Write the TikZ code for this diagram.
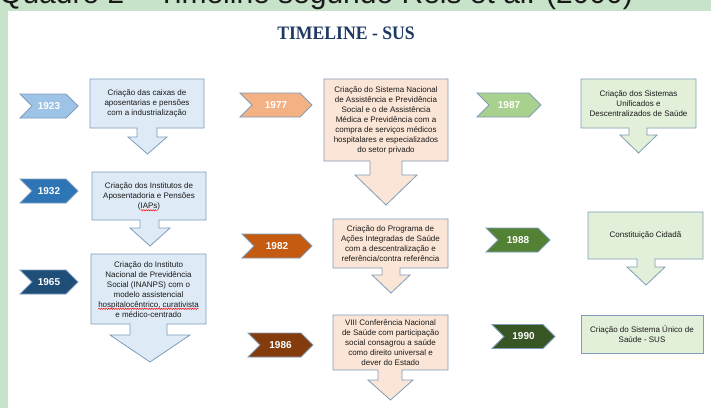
\documentclass[tikz,border=0pt]{standalone}
\usepackage{fontspec}
\setmainfont{Liberation Sans}
\newfontfamily\titlefont{Liberation Serif}
\usetikzlibrary{decorations.pathmorphing}
\definecolor{frame}{HTML}{C7E3C9}
\definecolor{edge}{HTML}{7F9DBB}
\definecolor{titleblue}{HTML}{1F3864}
\definecolor{txt}{HTML}{1A1A1A}
\definecolor{fblue}{HTML}{DEEBF7}
\definecolor{fpeach}{HTML}{FBE5D6}
\definecolor{fgreen}{HTML}{E2F0D9}
\definecolor{cA}{HTML}{9DC3E6}
\definecolor{cB}{HTML}{2E75B6}
\definecolor{cC}{HTML}{1F4E79}
\definecolor{cD}{HTML}{F4B183}
\definecolor{cE}{HTML}{C55A11}
\definecolor{cF}{HTML}{843C0C}
\definecolor{cG}{HTML}{A9D18E}
\definecolor{cH}{HTML}{548235}
\definecolor{cI}{HTML}{375623}
\tikzset{
  cbox/.style={draw=edge, line width=0.8pt, line join=miter},
  chevb/.style={draw=edge, line width=0.8pt},
  yr/.style={text=white, font=\fontsize{10}{12}\selectfont\bfseries, inner sep=0pt},
  btxt/.style={text=txt, font=\fontsize{8}{10}\selectfont, align=center, inner sep=0pt},
  squig/.style={draw=red, line width=0.45pt, decorate, decoration={snake, amplitude=0.7pt, segment length=2.4pt}},
}
\newcommand\chev[6]{%
  \draw[chevb, fill=#4] (#1,#3-12) -- (#2-12,#3-12) -- (#2,#3) -- (#2-12,#3+12) -- (#1,#3+12) -- (#1+12,#3) -- cycle;
  \node[yr] (#5) at ({(#1+#2)/2},#3) {#6};}
\begin{document}
\begin{tikzpicture}[x=1pt,y=-1pt]
\useasboundingbox (0,0) rectangle (711,408);
\clip (0,0) rectangle (711,408);
% frame
\fill[frame] (0,0) rectangle (711,408);
\fill[white] (8,11) rectangle (711,408);
\node[anchor=base west, inner sep=0pt, text=txt, font=\fontsize{30}{32}\selectfont] (hdr) at (-1,3) {Quadro 2 – Timeline segundo Reis et al. (2000)};
% title
\node[text=titleblue, inner sep=0pt, font=\titlefont\bfseries\fontsize{19}{20}\selectfont, xscale=0.93] (title) at (346,33) {TIMELINE - SUS};

% ---- column 1 ----
\chev{20}{78}{106}{cA}{y1923}{1923}
\chev{20}{78}{191}{cB}{y1932}{1932}
\chev{20}{78}{282}{cC}{y1965}{1965}

\draw[cbox, fill=fblue] (90,79) -- (204,79) -- (204,128) -- (157,128) -- (157,137) -- (167,137) -- (147.5,154) -- (128,137) -- (137,137) -- (137,128) -- (90,128) -- cycle;
\node[btxt] (b1923) at (147,103.5) {Criação das caixas de\\aposentarias e pensões\\com a industrialização};

\draw[cbox, fill=fblue] (92,172) -- (206,172) -- (206,220) -- (159,220) -- (159,228) -- (170,228) -- (150,246) -- (130,228) -- (140,228) -- (140,220) -- (92,220) -- cycle;
\node[btxt] (b1932) at (149,196) {Criação dos Institutos de\\Aposentadoria e Pensões\\(IAPs)};
\coordinate (w1a) at (140.6,210.3);
\coordinate (w1b) at (157.6,210.3);
\draw[squig] (w1a) -- (w1b);

\draw[cbox, fill=fblue] (91,254) -- (206,254) -- (206,324) -- (167,324) -- (167,335) -- (190,335) -- (150,362) -- (110,335) -- (130,335) -- (130,324) -- (91,324) -- cycle;
\node[btxt] (b1965) at (148.5,289.5) {Criação do Instituto\\Nacional de Previdência\\Social (INANPS) com o\\modelo assistencial\\hospitalocêntrico, curativista\\e médico-centrado};
\coordinate (w2a) at (98.3,308.8);
\coordinate (w2b) at (198.7,308.8);
\draw[squig] (w2a) -- (w2b);

% ---- column 2 ----
\chev{240}{312}{105}{cD}{y1977}{1977}
\chev{242}{312}{246}{cE}{y1982}{1982}
\chev{248}{313}{345}{cF}{y1986}{1986}

\draw[cbox, fill=fpeach] (324,79) -- (448,79) -- (448,161) -- (402,161) -- (402,175) -- (417,175) -- (386,205) -- (355,175) -- (370,175) -- (370,161) -- (324,161) -- cycle;
\node[btxt] (b1977) at (386,120.5) {Criação do Sistema Nacional\\de Assistência e Previdência\\Social e o de Assistência\\Médica e Previdência com a\\compra de serviços médicos\\hospitalares e especializados\\do setor privado};

\draw[cbox, fill=fpeach] (333,219) -- (448,219) -- (448,268) -- (400,268) -- (400,275) -- (410,275) -- (391,293) -- (372,275) -- (382,275) -- (382,268) -- (333,268) -- cycle;
\node[btxt] (b1982) at (390.5,243.5) {Criação do Programa de\\Ações Integradas de Saúde\\com a descentralização e\\referência/contra referência};

\draw[cbox, fill=fpeach] (333,315) -- (448,315) -- (448,370) -- (402,370) -- (402,380) -- (413,380) -- (390.5,400) -- (368,380) -- (378,380) -- (378,370) -- (333,370) -- cycle;
\node[btxt] (b1986) at (390.5,342.5) {VIII Conferência Nacional\\de Saúde com participação\\social consagrou a saúde\\como direito universal e\\dever do Estado};

% ---- column 3 ----
\chev{477}{541}{105}{cG}{y1987}{1987}
\chev{486}{550}{240}{cH}{y1988}{1988}
\chev{492}{555}{336.5}{cI}{y1990}{1990}

\draw[cbox, fill=fgreen] (581,79) -- (696,79) -- (696,128) -- (647,128) -- (647,135) -- (657,135) -- (638.5,153) -- (620,135) -- (629,135) -- (629,128) -- (581,128) -- cycle;
\node[btxt] (b1987) at (638.5,103.5) {Criação dos Sistemas\\Unificados e\\Descentralizados de Saúde};

\draw[cbox, fill=fgreen] (588,212) -- (703,212) -- (703,259) -- (655,259) -- (655,267) -- (665,267) -- (646,285) -- (627,267) -- (637,267) -- (637,259) -- (588,259) -- cycle;
\node[btxt] (b1988) at (645.5,235.5) {Constituição Cidadã};

\draw[cbox, fill=fgreen] (581,315) rectangle (703,353);
\node[btxt] (b1990) at (642,334) {Criação do Sistema Único de\\Saúde - SUS};
\end{tikzpicture}
\end{document}
